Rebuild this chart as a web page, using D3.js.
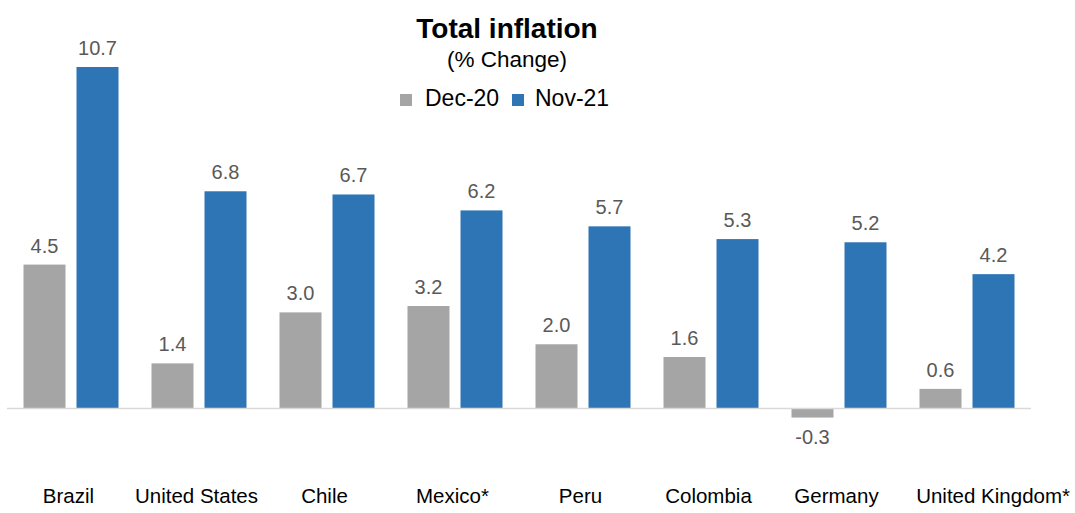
<!DOCTYPE html>
<html><head><meta charset="utf-8">
<script src="https://cdn.jsdelivr.net/npm/d3@7"></script>
<style>body{margin:0;background:#fff}svg{display:block;font-family:"Liberation Sans",Arial,sans-serif}</style>
</head><body>
<script>
const categories = ["Brazil","United States","Chile","Mexico*","Peru","Colombia","Germany","United Kingdom*"];
const seriesNames = ["Dec-20","Nov-21"];
const dec20 = [4.5,1.4,3.0,3.2,2.0,1.6,-0.3,0.6];
const nov21 = [10.7,6.8,6.7,6.2,5.7,5.3,5.2,4.2];
const colors = ["#a5a5a5","#2e75b6"];

const W=1075,H=513;
const svg=d3.select("body").append("svg").attr("width",W).attr("height",H);
const x0=d3.scaleBand().domain(categories).range([7,1031]).paddingInner(0).paddingOuter(0);
const x1=d3.scaleBand().domain(seriesNames).range([x0.bandwidth()/2-47.5, x0.bandwidth()/2+47.5]).paddingInner(11/53).paddingOuter(0);
const y=d3.scaleLinear().domain([0,10.7]).range([408,67]);
const fmt=d=>d3.format(".1f")(d).replace("\u2212","-");

const data=categories.map((c,i)=>({c, vals:[dec20[i],nov21[i]]}));

const g=svg.append("g");
const groups=g.selectAll("g.grp").data(data).join("g").attr("transform",d=>`translate(${x0(d.c)},0)`);
groups.selectAll("rect").data(d=>d.vals.map((v,k)=>({v,k}))).join("rect")
  .attr("x",d=>x1(seriesNames[d.k])).attr("width",x1.bandwidth())
  .attr("y",d=>y(Math.max(0,d.v))).attr("height",d=>Math.abs(y(d.v)-y(0)))
  .attr("fill",d=>colors[d.k]);
groups.selectAll("text.val").data(d=>d.vals.map((v,k)=>({v,k}))).join("text")
  .attr("class","val")
  .attr("x",d=>x1(seriesNames[d.k])+x1.bandwidth()/2)
  .attr("y",d=>d.v>=0? y(d.v)-12 : y(d.v)+26)
  .attr("text-anchor","middle").attr("font-size",20).attr("fill","#595959")
  .text(d=>fmt(d.v));

// zero line
svg.append("line").attr("x1",7).attr("x2",1031).attr("y1",y(0)+0.5).attr("y2",y(0)+0.5)
  .attr("stroke","#d9d9d9").attr("stroke-width",1.5);

// category labels (last one right-aligned to the page edge, as in the original)
const last=categories[categories.length-1];
svg.selectAll("text.cat").data(categories).join("text").attr("class","cat")
  .attr("x",d=>d===last? W-5 : x0(d)+x0.bandwidth()/2-2.5).attr("y",503)
  .attr("text-anchor",d=>d===last?"end":"middle").attr("font-size",20.5).attr("fill","#000").text(d=>d);

// title
svg.append("text").attr("x",507).attr("y",38).attr("text-anchor","middle")
  .attr("font-size",28).attr("font-weight","bold").text("Total inflation");
svg.append("text").attr("x",507).attr("y",67).attr("text-anchor","middle")
  .attr("font-size",22.5).text("(% Change)");

// legend
const leg=[{x:400,tx:425},{x:512,tx:535}];
seriesNames.forEach((s,i)=>{
  svg.append("rect").attr("x",leg[i].x).attr("y",94).attr("width",12).attr("height",12).attr("fill",colors[i]);
  svg.append("text").attr("x",leg[i].tx).attr("y",106).attr("font-size",23).text(s);
});
</script>
</body></html>
